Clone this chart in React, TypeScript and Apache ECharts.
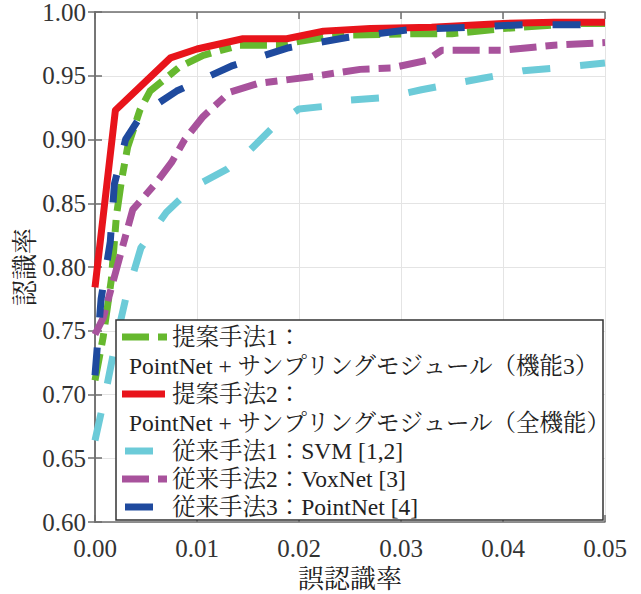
import React, { useEffect, useRef } from "react";
import * as echarts from "echarts";

// ---- data ----
const seriesNames = [
  "提案手法1：PointNet + サンプリングモジュール（機能3）",
  "提案手法2：PointNet + サンプリングモジュール（全機能）",
  "従来手法1：SVM [1,2]",
  "従来手法2：VoxNet [3]",
  "従来手法3：PointNet [4]",
];
const legendFirstLines = ["提案手法1：", "提案手法2：", "従来手法1：SVM [1,2]", "従来手法2：VoxNet [3]", "従来手法3：PointNet [4]"];
const legendSecondLines = ["PointNet + サンプリングモジュール（機能3）", "PointNet + サンプリングモジュール（全機能）", "", "", ""];

const greenX = [0, 0.0008, 0.0016, 0.0021, 0.0026, 0.0032, 0.0044, 0.0054, 0.0083, 0.0106, 0.0142, 0.0178, 0.0224, 0.025, 0.032, 0.035, 0.04, 0.047, 0.05];
const greenY = [0.711, 0.745, 0.79, 0.84, 0.868, 0.894, 0.923, 0.938, 0.957, 0.966, 0.974, 0.974, 0.98, 0.982, 0.983, 0.983, 0.987, 0.991, 0.991];

const redX = [0, 0.002, 0.0074, 0.01, 0.0145, 0.0188, 0.0224, 0.027, 0.033, 0.04, 0.045, 0.05];
const redY = [0.784, 0.923, 0.964, 0.971, 0.979, 0.979, 0.985, 0.987, 0.988, 0.991, 0.992, 0.992];

const cyanX = [0, 0.001, 0.002, 0.003, 0.0045, 0.007, 0.0095, 0.013, 0.015, 0.0175, 0.02, 0.0225, 0.025, 0.0285, 0.032, 0.038, 0.042, 0.045, 0.05];
const cyanY = [0.664, 0.7, 0.74, 0.775, 0.815, 0.843, 0.862, 0.877, 0.89, 0.91, 0.924, 0.926, 0.931, 0.933, 0.939, 0.948, 0.954, 0.956, 0.96];

const purpleX = [0, 0.0008, 0.0025, 0.0037, 0.006, 0.0075, 0.0088, 0.0106, 0.0132, 0.016, 0.021, 0.026, 0.029, 0.0325, 0.034, 0.04, 0.045, 0.05];
const purpleY = [0.747, 0.76, 0.81, 0.845, 0.866, 0.882, 0.9, 0.918, 0.937, 0.944, 0.949, 0.955, 0.956, 0.962, 0.97, 0.97, 0.974, 0.976];

const blueX = [0, 0.0006, 0.0015, 0.0019, 0.003, 0.0046, 0.008, 0.0135, 0.019, 0.0247, 0.0306, 0.0365, 0.042, 0.048, 0.05];
const blueY = [0.715, 0.775, 0.82, 0.865, 0.9, 0.92, 0.938, 0.958, 0.972, 0.98, 0.986, 0.988, 0.99, 0.99, 0.99];

const xAxisTitle = "誤認識率";
const yAxisTitle = "認識率";

// ---- styles ----
const colors = ["#66b82e", "#e8141b", "#6ccbd8", "#a8529c", "#1f4a9e"];
const dashes: (number[] | "solid")[] = [[27, 9, 12, 9], "solid", [28, 30], [27, 9, 12, 9], [28, 30]];
const SERIF = '"Liberation Serif", "Noto Serif CJK JP", "Noto Sans CJK JP", serif';

const pairs = (xs: number[], ys: number[]) => xs.map((x, i) => [x, ys[i]]);
const allData = [pairs(greenX, greenY), pairs(redX, redY), pairs(cyanX, cyanY), pairs(purpleX, purpleY), pairs(blueX, blueY)];

export default function App() {
  const ref = useRef<HTMLDivElement>(null);
  useEffect(() => {
    if (!ref.current) return;
    const chart = echarts.init(ref.current, undefined, { renderer: "svg" });
    const axisColor = "#6e6e6e";
    const baseX = {
      type: "value",
      min: 0,
      max: 0.05,
      interval: 0.01,
      axisLine: { show: true, lineStyle: { color: axisColor, width: 1.5 } },
      axisTick: { show: true, inside: true, length: 7, lineStyle: { color: axisColor, width: 1.5 } },
      splitLine: { show: true, lineStyle: { color: "#e4e4e4", width: 1 } },
    };
    const baseY = {
      type: "value",
      min: 0.6,
      max: 1.0,
      interval: 0.05,
      axisLine: { show: true, lineStyle: { color: axisColor, width: 1.5 } },
      axisTick: { show: true, inside: true, length: 7, lineStyle: { color: axisColor, width: 1.5 } },
      splitLine: { show: true, lineStyle: { color: "#e4e4e4", width: 1 } },
    };

    // legend drawn as graphics
    const legendRows = [337, 366, 394, 423, 451, 479, 507];
    const iconSpans = [
      [122, 167],
      [122, 165],
      [125, 155],
      [122, 167],
      [125, 155],
    ];
    const graphics: any[] = [
      {
        type: "rect",
        z: 100,
        shape: { x: 116, y: 320, width: 487, height: 200 },
        style: { fill: "#fff", stroke: "#333", lineWidth: 1.5 },
      },
    ];
    let row = 0;
    seriesNames.forEach((_, i) => {
      const y = legendRows[row];
      const d = dashes[i];
      graphics.push({
        type: "line",
        z: 101,
        shape: { x1: iconSpans[i][0], y1: y, x2: iconSpans[i][1], y2: y },
        style: { stroke: colors[i], lineWidth: 7, lineDash: d === "solid" ? null : d, lineCap: "butt" },
      });
      graphics.push({
        type: "text",
        z: 101,
        x: 172,
        y,
        style: { text: legendFirstLines[i], fontSize: 23.5, fontFamily: SERIF, fill: "#222", verticalAlign: "middle", align: "left" },
      });
      row++;
      if (legendSecondLines[i]) {
        graphics.push({
          type: "text",
          z: 101,
          x: 129,
          y: legendRows[row],
          style: { text: legendSecondLines[i], fontSize: 23.5, fontFamily: SERIF, fill: "#222", verticalAlign: "middle", align: "left" },
        });
        row++;
      }
    });

    chart.setOption({
      animation: false,
      backgroundColor: "#fff",
      grid: { left: 95, top: 12, width: 510, height: 510, containLabel: false, outerBoundsMode: "none" },
      xAxis: [
        {
          ...baseX,
          position: "bottom",
          name: xAxisTitle,
          nameLocation: "middle",
          nameGap: 44,
          nameMoveOverlap: false,
          nameTextStyle: { fontSize: 26, fontFamily: SERIF, color: "#222" },
          axisLabel: { show: true, margin: 14, fontSize: 25, fontFamily: SERIF, color: "#333", formatter: (v: number) => v.toFixed(2) },
        },
        { ...baseX, position: "top", axisLabel: { show: false }, splitLine: { show: false } },
      ],
      yAxis: [
        {
          ...baseY,
          position: "left",
          name: yAxisTitle,
          nameLocation: "middle",
          nameGap: 57,
          nameRotate: 90,
          nameMoveOverlap: false,
          nameTextStyle: { fontSize: 26, fontFamily: SERIF, color: "#222" },
          axisLabel: { show: true, margin: 9, fontSize: 25, fontFamily: SERIF, color: "#333", formatter: (v: number) => v.toFixed(2) },
        },
        { ...baseY, position: "right", axisLabel: { show: false }, splitLine: { show: false } },
      ],
      series: seriesNames.map((name, i) => ({
        name,
        type: "line",
        xAxisIndex: 0,
        yAxisIndex: 0,
        data: allData[i],
        showSymbol: false,
        symbol: "none",
        smooth: false,
        clip: true,
        lineStyle: { color: colors[i], width: 7, type: dashes[i], cap: "butt", join: "round" },
        z: 2 + i,
      })),
      graphic: graphics,
    });
    return () => chart.dispose();
  }, []);
  return <div ref={ref} style={{ position: "fixed", left: 0, top: 0, width: 641, height: 594 }} />;
}
